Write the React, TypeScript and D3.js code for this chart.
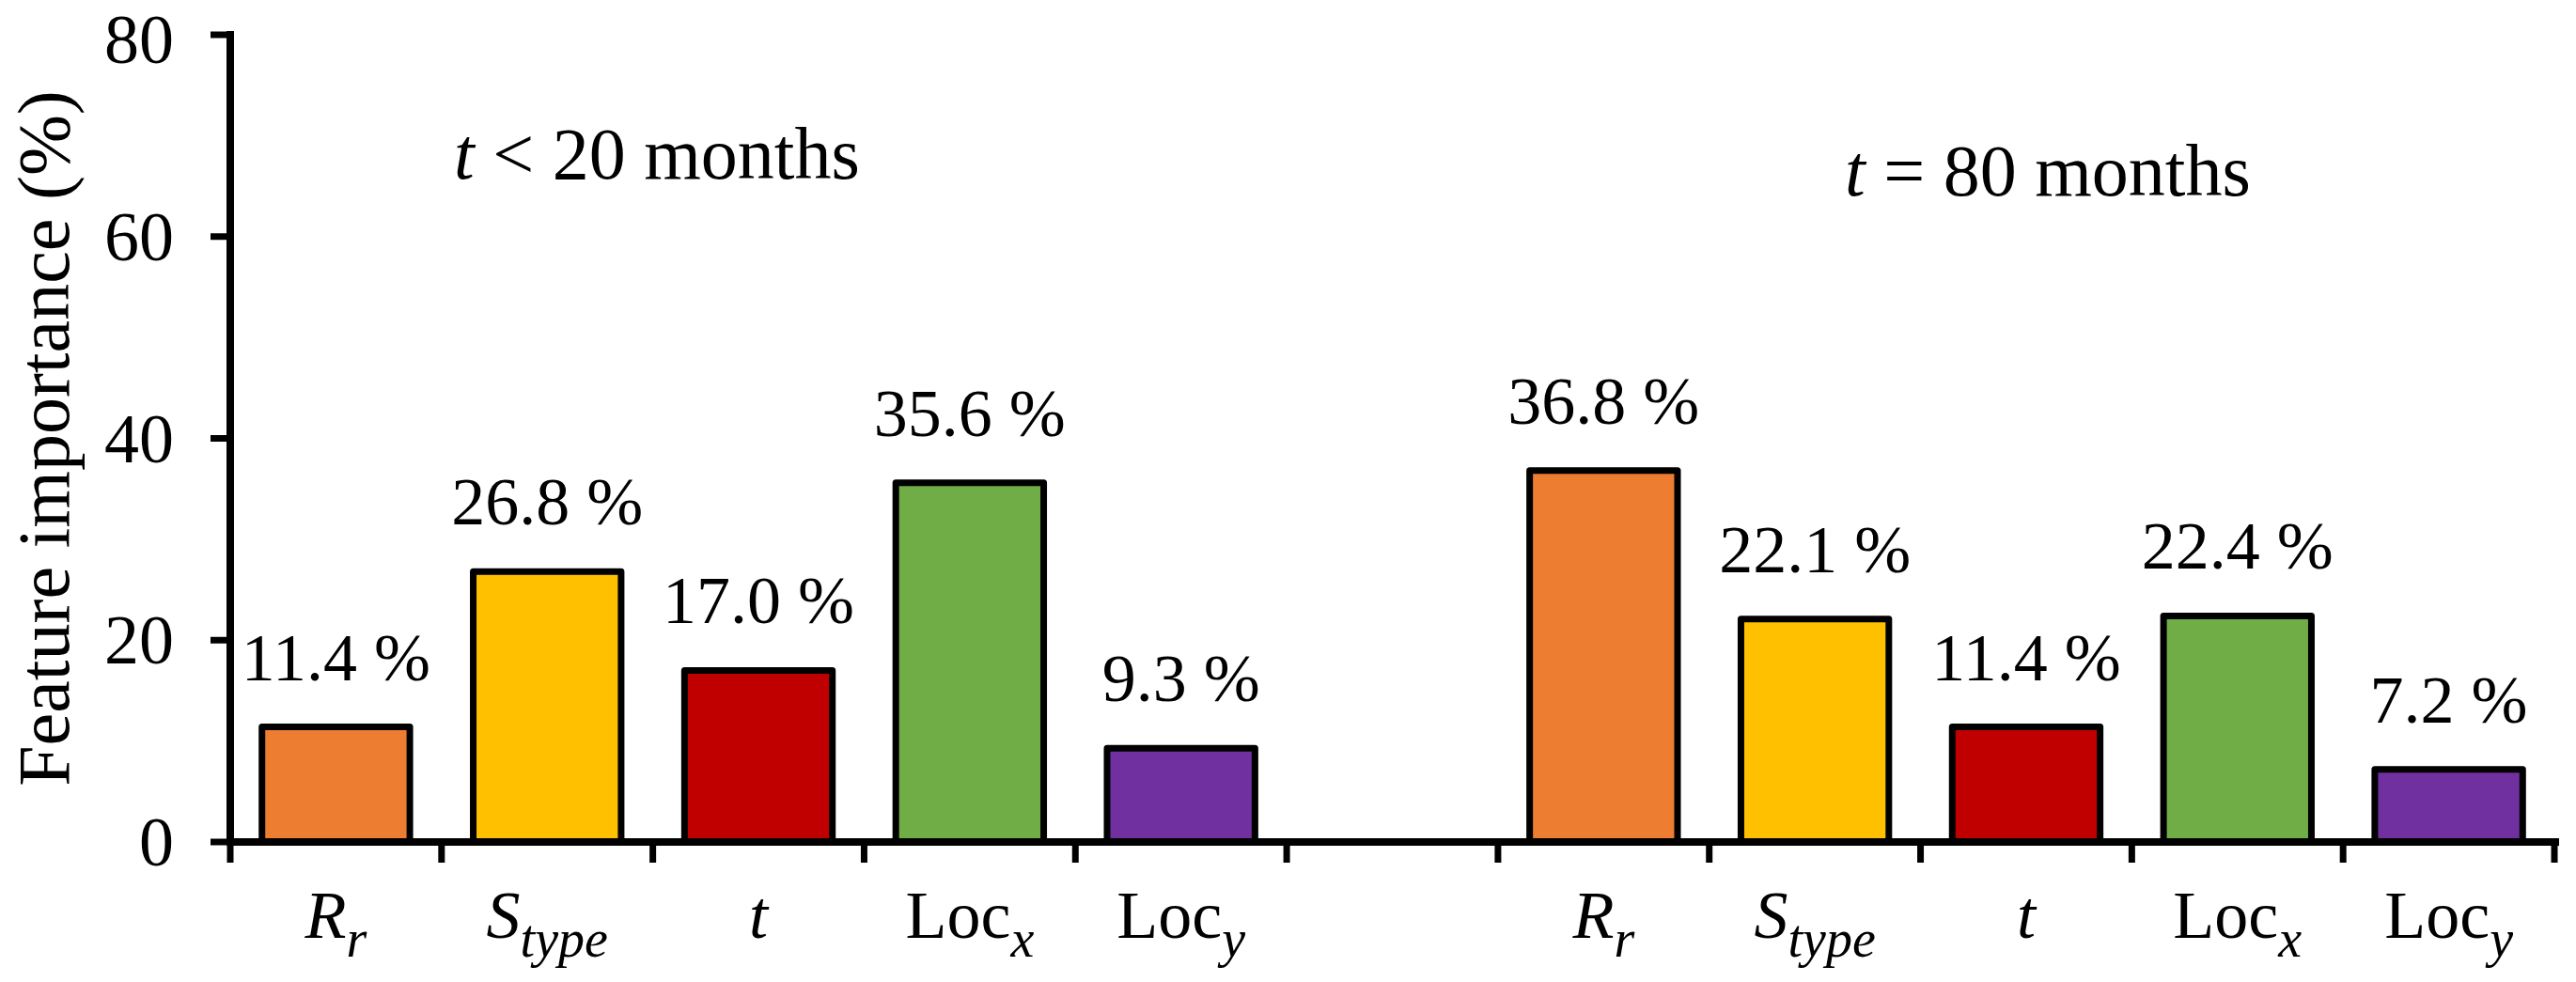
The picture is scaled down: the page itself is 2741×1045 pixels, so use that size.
import * as d3 from 'd3'

const features = ['Rr', 'Stype', 't', 'Locx', 'Locy']
const early = [11.4, 26.8, 17.0, 35.6, 9.3]
const late = [36.8, 22.1, 11.4, 22.4, 7.2]
const colors = ['#ED7D31', '#FFC000', '#C00000', '#70AD47', '#7030A0']
const yTicks = [0, 20, 40, 60, 80]
const panelTitles = [
  { italic: 't', rest: ' < 20 months' },
  { italic: 't', rest: ' = 80 months' },
]

// label parts: [main, main italic?, subscript]
const labelParts = {
  Rr: ['R', true, 'r'],
  Stype: ['S', true, 'type'],
  t: ['t', true, ''],
  Locx: ['Loc', false, 'x'],
  Locy: ['Loc', false, 'y'],
}

const W = 2741
const H = 1045
const font = '"Liberation Serif", "Times New Roman", serif'

const slots = [
  ...features.map(f => 'a-' + f),
  'gap',
  ...features.map(f => 'b-' + f),
]

const bars = [
  ...features.map((f, i) => ({ key: 'a-' + f, f, v: early[i], c: colors[i] })),
  ...features.map((f, i) => ({ key: 'b-' + f, f, v: late[i], c: colors[i] })),
]

const App = () => {
  const x = d3.scaleBand().domain(slots).range([245, 2718]).paddingInner(0.3).paddingOuter(0.15)
  const y = d3.scaleLinear().domain([0, 80]).range([896, 37])
  const step = x.step()
  const x0 = 245
  const boundaries = d3.range(slots.length + 1).map(i => x0 + i * step)

  return (
    <svg width={W} height={H} style={{ position: 'absolute', left: 0, top: 0, background: '#fff' }}
      fontFamily={font}>
      {/* bars */}
      {bars.map(b => (
        <rect key={b.key}
          x={x(b.key)} y={y(b.v)} width={x.bandwidth()} height={y(0) - y(b.v)}
          fill={b.c} stroke="#000" strokeWidth={7} strokeLinejoin="round" />
      ))}

      {/* value labels */}
      {bars.map(b => (
        <text key={'l' + b.key} x={x(b.key) + x.bandwidth() / 2} y={y(b.v) - 50}
          textAnchor="middle" fontSize={72}>
          {b.v.toFixed(1) + ' %'}
        </text>
      ))}

      {/* y axis */}
      <line x1={x0} x2={x0} y1={33} y2={y(0) + 4} stroke="#000" strokeWidth={8} />
      {yTicks.map(t => (
        <g key={t}>
          <line x1={224} x2={x0} y1={y(t)} y2={y(t)} stroke="#000" strokeWidth={7} />
          <text x={185} y={y(t)} dy={t === 80 ? 30 : 25} textAnchor="end" fontSize={74}>{t}</text>
        </g>
      ))}

      {/* x axis */}
      <line x1={x0 - 4} x2={2723} y1={y(0)} y2={y(0)} stroke="#000" strokeWidth={8} />
      {boundaries.map((bx, i) => (
        <line key={i} x1={bx} x2={bx} y1={y(0)} y2={918} stroke="#000" strokeWidth={7} />
      ))}

      {/* category labels */}
      {bars.map(b => {
        const [main, it, sub] = labelParts[b.f]
        return (
          <text key={'c' + b.key} x={x(b.key) + x.bandwidth() / 2} y={998}
            textAnchor="middle" fontSize={72}>
            <tspan fontStyle={it ? 'italic' : 'normal'}>{main}</tspan>
            {sub && <tspan fontStyle="italic" fontSize={56} dy={20}>{sub}</tspan>}
          </text>
        )
      })}

      {/* panel titles */}
      <text x={483} y={190} fontSize={78}>
        <tspan fontStyle="italic">{panelTitles[0].italic}</tspan>
        <tspan>{panelTitles[0].rest}</tspan>
      </text>
      <text x={1963} y={208} fontSize={78}>
        <tspan fontStyle="italic">{panelTitles[1].italic}</tspan>
        <tspan>{panelTitles[1].rest}</tspan>
      </text>

      {/* y axis title */}
      <text transform={`translate(73, ${(y(0) + y(80)) / 2}) rotate(-90)`} textAnchor="middle" fontSize={78}>
        Feature importance (%)
      </text>
    </svg>
  )
}

export default App
